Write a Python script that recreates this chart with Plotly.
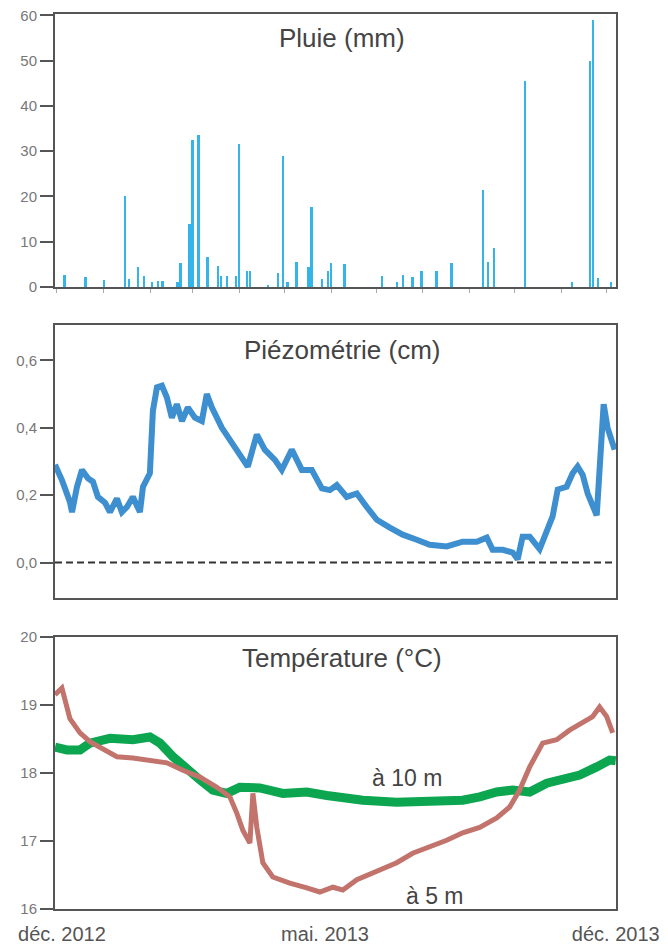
import pandas as pd
import plotly.graph_objects as go

# ---------------- data (x in days since 2012-12-01) ----------------
START = pd.Timestamp("2012-12-01")

rain_days = [5, 19, 31, 45, 48, 54, 58, 63, 67, 70, 80, 82, 88, 90, 94, 100, 107, 109,
             113, 119, 121, 126, 128, 140, 147, 150, 153, 159, 167, 169, 176, 180, 182,
             191, 216, 226, 230, 236, 242, 252, 262, 283, 286, 290, 311, 342, 354, 356,
             359, 368]
rain_mm = [2.6, 2.2, 1.5, 20, 1.7, 4.4, 2.4, 1, 1.3, 1.3, 1.2, 5.3, 14, 32.5, 33.5, 6.6,
           4.6, 2.5, 2.4, 2.5, 31.5, 3.5, 3.5, 0.5, 3, 29, 1, 5.5, 4.5, 17.7, 1.8, 3.5,
           5.3, 5, 2.4, 1.2, 2.6, 2.2, 3.5, 3.5, 5.3, 21.4, 5.5, 8.6, 45.5, 1, 50, 59,
           2, 1]

piezo_days = [-1.3, 3.3, 8.6, 10, 13.3, 16.6, 20.6, 23.9, 27.2, 31.9, 35.2, 39.8, 43.1,
              46.5, 50.4, 55.1, 57.1, 61.7, 63.7, 66.4, 69.7, 73, 76.3, 79.6, 83, 86.9,
              91.6, 96.2, 99.5, 102.9, 109.5, 116.1, 122.8, 126.7, 132.7, 138, 144.7,
              149.3, 155.9, 162.6, 169.2, 175.9, 181.2, 185.8, 192.4, 199.1, 205.7,
              212.4, 221, 229.6, 238.9, 247.5, 258.8, 269.4, 278.7, 285.4, 289.3, 296,
              302.6, 305.9, 309.2, 313.9, 320.5, 325.2, 329.1, 332.5, 338.4, 342.4,
              345.7, 349.1, 352.4, 358.4, 360.3, 363, 365.6, 368.3, 370.3]
piezo_cm = [0.29, 0.245, 0.18, 0.15, 0.225, 0.275, 0.25, 0.24, 0.195, 0.178, 0.15, 0.19,
            0.15, 0.165, 0.195, 0.15, 0.225, 0.265, 0.45, 0.52, 0.525, 0.49, 0.43, 0.47,
            0.42, 0.46, 0.43, 0.42, 0.50, 0.46, 0.40, 0.355, 0.315, 0.285, 0.38, 0.335,
            0.305, 0.275, 0.335, 0.275, 0.275, 0.22, 0.215, 0.23, 0.195, 0.205, 0.165,
            0.127, 0.104, 0.083, 0.068, 0.053, 0.048, 0.062, 0.062, 0.074, 0.038, 0.038,
            0.03, 0.01, 0.077, 0.077, 0.04, 0.09, 0.137, 0.217, 0.225, 0.265, 0.285,
            0.26, 0.205, 0.14, 0.305, 0.47, 0.40, 0.36, 0.335]

t5_days = [-1.3, 0, 3.3, 8.6, 15.3, 21.9, 28.5, 39.8, 50.4, 61.7, 73, 83.6, 94.9, 106.2,
           114.8, 119.4, 123.4, 128.1, 130.1, 132.7, 136.7, 143.3, 154.6, 165.9, 174.5,
           183.2, 189.8, 199.1, 214.3, 225.6, 236.2, 247.5, 258.8, 269.4, 280.7, 292,
           300.6, 307.2, 313.9, 322.5, 331.8, 340.4, 349.1, 355.7, 360.3, 365, 369]
t5_c = [19.15, 19.18, 19.25, 18.8, 18.59, 18.46, 18.38, 18.24, 18.22, 18.19, 18.15,
        18.04, 17.94, 17.79, 17.65, 17.41, 17.16, 16.97, 17.7, 17.2, 16.68, 16.47, 16.38,
        16.31, 16.25, 16.32, 16.28, 16.43, 16.57, 16.68, 16.82, 16.91, 17.01, 17.12,
        17.2, 17.34, 17.5, 17.75, 18.09, 18.44, 18.49, 18.63, 18.74, 18.83, 18.97, 18.83,
        18.59]

t10_days = [-1.3, 6.6, 15.3, 21.9, 35.2, 50.4, 61.7, 68.4, 77, 86.3, 94.9, 103.5, 112.8,
            121.4, 134.7, 150, 165.9, 179.2, 203.1, 225.6, 247.5, 269.4, 280.7, 292,
            302.6, 313.9, 325.2, 335.8, 347.1, 358.4, 367, 371]
t10_c = [18.38, 18.34, 18.34, 18.44, 18.51, 18.49, 18.53, 18.44, 18.24, 18.04, 17.9,
         17.75, 17.7, 17.79, 17.78, 17.7, 17.72, 17.67, 17.6, 17.57, 17.57, 17.6, 17.65,
         17.72, 17.75, 17.72, 17.85, 17.9, 17.97, 18.09, 18.19, 18.18]

x_range_days = [-1.3, 371.2]
xtick_days = [3.3, 178, 371]
xtick_text = ["déc. 2012", "mai. 2013", "déc. 2013"]

panel_titles = ["Pluie (mm)", "Piézométrie (cm)", "Température (°C)"]
series_labels = ["à 10 m", "à 5 m"]


def to_dates(days):
    return [START + pd.Timedelta(days=float(d)) for d in days]


W, H = 668, 948
FRAME = "#555555"
TICKFONT = dict(family="Liberation Sans, Arial, sans-serif", size=15, color="#777777")

fig = go.Figure()

fig.add_trace(go.Bar(x=to_dates(rain_days), y=rain_mm, xaxis="x", yaxis="y",
                     marker=dict(color="#35b4ea", line=dict(width=0)),
                     width=1.5 * 86400000, showlegend=False))
fig.add_trace(go.Scatter(x=to_dates(piezo_days), y=piezo_cm, xaxis="x2", yaxis="y2",
                         mode="lines", line=dict(color="#3e8fd0", width=6),
                         showlegend=False))
fig.add_trace(go.Scatter(x=to_dates(t10_days), y=t10_c, xaxis="x3", yaxis="y3",
                         mode="lines", line=dict(color="#0da650", width=9),
                         showlegend=False))
fig.add_trace(go.Scatter(x=to_dates(t5_days), y=t5_c, xaxis="x3", yaxis="y3",
                         mode="lines", line=dict(color="#c2736b", width=5),
                         showlegend=False))

xr = to_dates(x_range_days)
xdom = [55 / W, 616 / W]


def ydom(top, bottom):
    return [1 - bottom / H, 1 - top / H]


common_x = dict(range=xr, domain=xdom, showline=True, mirror=True, linecolor=FRAME,
                linewidth=2, showgrid=False, zeroline=False, automargin=False)
common_y = dict(showline=True, mirror=True, linecolor=FRAME, linewidth=2,
                showgrid=False, zeroline=False, ticks="outside", ticklen=13,
                tickwidth=2, tickcolor=FRAME, tickfont=TICKFONT, automargin=False)

fig.update_layout(
    width=W, height=H, margin=dict(l=0, r=0, t=0, b=0, autoexpand=False),
    paper_bgcolor="white", plot_bgcolor="white", separators=", ",
    bargap=0, barmode="overlay",
    xaxis=dict(**common_x, anchor="y", showticklabels=False, ticks="outside",
               ticklen=4, tickcolor="#aaaaaa", tickwidth=1, dtick="M1",
               tick0="2012-12-01"),
    yaxis=dict(**common_y, domain=ydom(14, 287), range=[0, 60.3], tickvals=[0, 10, 20, 30, 40, 50, 60]),
    xaxis2=dict(**common_x, anchor="y2", showticklabels=False, ticks=""),
    yaxis2=dict(**common_y, domain=ydom(325, 598), range=[-0.105, 0.705],
                tickvals=[0, 0.2, 0.4, 0.6], tickformat=".1f"),
    xaxis3=dict(**common_x, anchor="y3", tickvals=to_dates(xtick_days),
                ticktext=xtick_text, ticks="outside", ticklen=6,
                tickcolor="rgba(0,0,0,0)",
                tickfont=dict(family="Liberation Sans, Arial, sans-serif", size=20,
                              color="#555555")),
    yaxis3=dict(**common_y, domain=ydom(637, 909), range=[16, 20],
                tickvals=[16, 17, 18, 19, 20]),
)

# dashed zero line on piezometry panel
fig.add_shape(type="line", xref="x2 domain", yref="y2", x0=0, x1=1, y0=0, y1=0,
              line=dict(color="#333333", width=2, dash="7px,4px"), layer="above")

TITLEFONT = dict(family="Liberation Sans, Arial, sans-serif", size=26, color="#444444")
for txt, ypx in zip(panel_titles, [38, 350, 658]):
    fig.add_annotation(text=txt, xref="paper", yref="paper", x=342 / W, y=1 - ypx / H,
                       xanchor="center", yanchor="middle", showarrow=False, font=TITLEFONT)

LABFONT = dict(family="Liberation Sans, Arial, sans-serif", size=23, color="#444444")
fig.add_annotation(text=series_labels[0], xref="paper", yref="paper", x=407 / W,
                   y=1 - 778 / H, xanchor="center", yanchor="middle", showarrow=False,
                   font=LABFONT)
fig.add_annotation(text=series_labels[1], xref="paper", yref="paper", x=435 / W,
                   y=1 - 896 / H, xanchor="center", yanchor="middle", showarrow=False,
                   font=LABFONT)

fig.write_html("out.html")
